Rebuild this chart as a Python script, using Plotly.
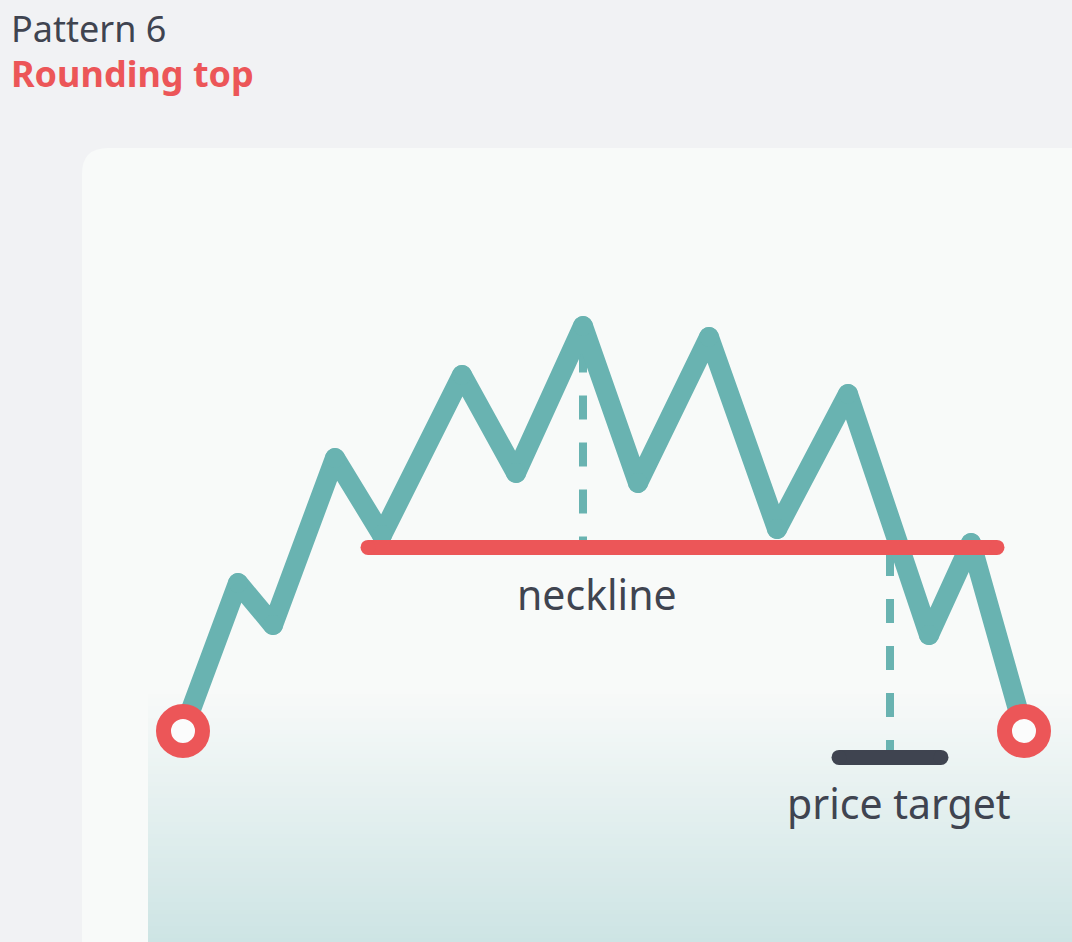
import plotly.graph_objects as go

# ---- data (time index, price) ----
time_idx = [0, 5.5, 9, 15.2, 19.9, 27.9, 33.3, 40, 45.5, 52.6, 59.4, 66.5, 74.6, 78.8, 84.1]
price = [0, 37, 26.5, 68.25, 49, 89, 64.5, 101.25, 62, 98.5, 50.5, 84.25, 24, 47, 0]

neckline_level = 45.9
neckline_span = [18.5, 81.4]
peak_time = 40
peak_guide_top = 95.6
breakout_time = 70.7
breakout_guide_top = 44.75
target_level = -6.6
target_span = [65.6, 75.8]
neck_label_time = 41.4
target_label_time = 71.6

title_top = "Pattern 6"
title_main = "Rounding top"
label_neck = "neckline"
label_target = "price target"

# ---- styles ----
W, H = 1072, 942
BG = "#f1f2f4"
CARD = "#f8faf9"
GRAD_END = (205, 228, 228)
TEAL = "#69b3b1"
RED = "#ec5658"
DARK = "#3f4450"
FONT = "Noto Sans"


def px_x(p):
    return p / W


def px_y(p):
    return 1 - p / H


shapes = []
# card with rounded top-left corner
r = 26
x0, y0 = 82, 148
path = (f"M {px_x(x0)},{px_y(H + 5)} L {px_x(x0)},{px_y(y0 + r)} "
        f"Q {px_x(x0)},{px_y(y0)} {px_x(x0 + r)},{px_y(y0)} "
        f"L {px_x(W + 5)},{px_y(y0)} L {px_x(W + 5)},{px_y(H + 5)} Z")
shapes.append(dict(type="path", xref="paper", yref="paper", path=path,
                   fillcolor=CARD, line=dict(width=0), layer="below"))

# vertical gradient panel
g_top, g_bot, g_left = 690, H, 148
n = 63
c0 = (248, 250, 249)
for i in range(n):
    ya = g_top + (g_bot - g_top) * i / n
    yb = g_top + (g_bot - g_top) * (i + 1) / n + 0.6
    f = (i + 0.5) / n
    col = tuple(round(c0[k] + (GRAD_END[k] - c0[k]) * f) for k in range(3))
    shapes.append(dict(type="rect", xref="paper", yref="paper",
                       x0=px_x(g_left), x1=px_x(W + 5), y0=px_y(yb), y1=px_y(ya),
                       fillcolor="rgb(%d,%d,%d)" % col, line=dict(width=0), layer="below"))

fig = go.Figure()

# dashed guides
fig.add_trace(go.Scatter(x=[peak_time, peak_time], y=[peak_guide_top, neckline_level], mode="lines",
                         line=dict(color=TEAL, width=8, dash="24px,23px"), hoverinfo="skip"))
fig.add_trace(go.Scatter(x=[breakout_time, breakout_time], y=[breakout_guide_top, target_level], mode="lines",
                         line=dict(color=TEAL, width=8, dash="24px,23px"), hoverinfo="skip"))

# price line
fig.add_trace(go.Scatter(x=time_idx, y=price, mode="lines+markers",
                         line=dict(color=TEAL, width=20),
                         marker=dict(color=TEAL, size=20, line=dict(width=0)),
                         hoverinfo="skip"))

# neckline
fig.add_trace(go.Scatter(x=neckline_span, y=[neckline_level, neckline_level], mode="lines+markers",
                         line=dict(color=RED, width=15),
                         marker=dict(color=RED, size=15, line=dict(width=0)), hoverinfo="skip"))

# price target bar
fig.add_trace(go.Scatter(x=target_span, y=[target_level, target_level], mode="lines+markers",
                         line=dict(color=DARK, width=15),
                         marker=dict(color=DARK, size=15, line=dict(width=0)), hoverinfo="skip"))

# end circles
fig.add_trace(go.Scatter(x=[time_idx[0], time_idx[-1]], y=[price[0], price[-1]], mode="markers",
                         marker=dict(color="#fbfcfc", size=39, line=dict(color=RED, width=15)),
                         hoverinfo="skip"))

annotations = [
    dict(text=title_top, xref="paper", yref="paper", x=px_x(9), y=px_y(29),
         xanchor="left", yanchor="middle", showarrow=False,
         font=dict(family=FONT, size=36, color=DARK)),
    dict(text="<b>" + title_main + "</b>", xref="paper", yref="paper", x=px_x(9), y=px_y(74),
         xanchor="left", yanchor="middle", showarrow=False,
         font=dict(family=FONT, size=36, color=RED)),
    dict(text=label_neck, x=neck_label_time, y=neckline_level, xref="x", yref="y",
         yshift=-47, xanchor="center", yanchor="middle", showarrow=False,
         font=dict(family=FONT, size=41, color=DARK)),
    dict(text=label_target, x=target_label_time, y=target_level, xref="x", yref="y",
         yshift=-46, xanchor="center", yanchor="middle", showarrow=False,
         font=dict(family=FONT, size=41, color=DARK)),
]

fig.update_layout(
    width=W, height=H,
    margin=dict(l=0, r=0, t=0, b=0, pad=0),
    paper_bgcolor=BG, plot_bgcolor=BG,
    showlegend=False,
    shapes=shapes,
    annotations=annotations,
    xaxis=dict(range=[-18.3, 88.9], visible=False, fixedrange=True),
    yaxis=dict(range=[-52.75, 182.75], visible=False, fixedrange=True),
)

post = ("document.body.style.margin='0';document.body.style.overflow='hidden';"
        "var s=document.createElement('style');"
        "s.innerHTML='.js-line{stroke-linejoin:round !important;}';"
        "document.head.appendChild(s);")
fig.write_html("out.html", include_plotlyjs=True, config={"displayModeBar": False},
               post_script=post)
